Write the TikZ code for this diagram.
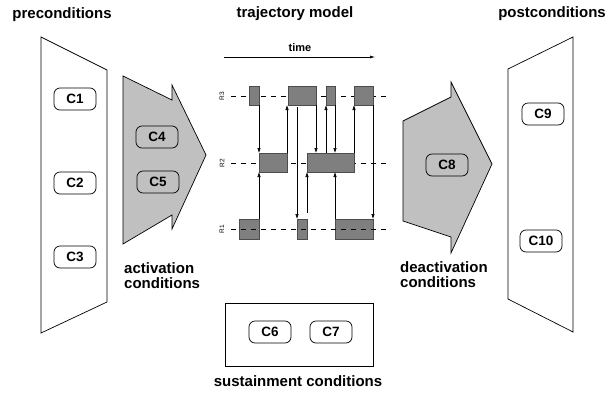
\documentclass[tikz,border=0pt]{standalone}
\usepackage{fontspec}
\setmainfont{Liberation Sans}
\usetikzlibrary{arrows.meta}
\definecolor{lgray}{HTML}{C0C0C0}
\definecolor{dgray}{HTML}{7F7F7F}
\tikzset{
  frame/.style={draw=black, line width=0.7pt, line join=miter},
  grayshape/.style={frame, fill=lgray},
  pill/.style={draw=black, line width=0.7pt, rounded corners=6pt, minimum width=42pt, minimum height=22pt, inner sep=0pt, font=\bfseries\fontsize{13.5}{14}\selectfont},
  whitepill/.style={pill, fill=white},
  graypill/.style={pill, fill=lgray},
  title/.style={font=\bfseries\fontsize{15}{15}\selectfont, inner sep=0pt},
  bar/.style={draw=black!70, fill=dgray, line width=0.6pt, inner sep=0pt, outer sep=0pt},
  arr/.style={line width=0.6pt, -{Latex[length=5pt, width=3.5pt]}},
  dashline/.style={line width=0.6pt, dash pattern=on 5pt off 5pt},
  rlab/.style={font=\fontsize{6.5}{7}\selectfont, rotate=90, inner sep=0pt}
}
\begin{document}
\begin{tikzpicture}[x=1pt, y=-1pt]
\useasboundingbox (0,0) rectangle (608,394);

% titles
\node[title] (tpre) at (62,15) {preconditions};
\node[title] (ttraj) at (295,14) {trajectory model};
\node[title] (tpost) at (552,14) {postconditions};

% precondition trapezoid
\draw[frame, fill=white] (41,37) -- (107,70) -- (107,302) -- (41,333) -- cycle;
\node[whitepill] (c1) at (75,99) {C1};
\node[whitepill] (c2) at (75,183) {C2};
\node[whitepill] (c3) at (75,257) {C3};

% activation arrow
\draw[grayshape] (123,76) -- (172,100) -- (172,85) -- (206,155) -- (172,229) -- (172,215) -- (123,244) -- cycle;
\node[graypill] (c4) at (157,137) {C4};
\node[graypill] (c5) at (158,182) {C5};
\node[title, anchor=west, align=left] (tact) at (124,276) {activation\\conditions};

% deactivation arrow
\draw[grayshape] (403,121) -- (451,97) -- (451,82) -- (492,164) -- (451,253) -- (451,237) -- (403,221) -- cycle;
\node[graypill] (c8) at (447,165) {C8};
\node[title, anchor=west, align=left] (tdeact) at (400,275) {deactivation\\conditions};

% postcondition trapezoid
\draw[frame, fill=white] (508,69) -- (573,37) -- (573,332) -- (508,299) -- cycle;
\node[whitepill] (c9) at (543,114) {C9};
\node[whitepill] (c10) at (541,241) {C10};

% sustainment
\draw[frame] (225,303) rectangle (373,366);
\node[whitepill] (c6) at (270,332) {C6};
\node[whitepill] (c7) at (331,332) {C7};
\node[title] (tsust) at (298,381) {sustainment conditions};

% time axis
\coordinate (t0) at (224,57);
\coordinate (t1) at (375,57);
\draw[line width=0.6pt, -{Latex[length=5pt, width=3pt]}] (t0) -- (t1);
\node[font=\bfseries\fontsize{11}{11}\selectfont, inner sep=0pt] (ttime) at (300,48) {time};

% resource labels
\node[rlab] (lr3) at (222,96) {R3};
\node[rlab] (lr2) at (222,163) {R2};
\node[rlab] (lr1) at (222,229) {R1};

% dashed lines R3, R2 (under bars)
\coordinate (d3a) at (231,96); \coordinate (d3b) at (386,96);
\coordinate (d2a) at (231,163); \coordinate (d2b) at (386,163);
\coordinate (d1a) at (231,229); \coordinate (d1b) at (386,229);
\draw[dashline] (d3a) -- (d3b);
\draw[dashline] (d2a) -- (d2b);

% bars
\node[bar, minimum width=10pt, minimum height=19pt] (r3a) at (254,95.5) {};
\node[bar, minimum width=28pt, minimum height=19pt] (r3b) at (302,95.5) {};
\node[bar, minimum width=9pt, minimum height=19pt] (r3c) at (330.5,95.5) {};
\node[bar, minimum width=19pt, minimum height=19pt] (r3d) at (363.5,95.5) {};
\node[bar, minimum width=28pt, minimum height=19pt] (r2a) at (273,162.5) {};
\node[bar, minimum width=47pt, minimum height=19pt] (r2b) at (330.5,162.5) {};
\node[bar, minimum width=20pt, minimum height=20pt] (r1a) at (249,229) {};
\node[bar, minimum width=10pt, minimum height=20pt] (r1b) at (302,229) {};
\node[bar, minimum width=38pt, minimum height=20pt] (r1c) at (354,229) {};

% R1 dashed line (over bars)
\draw[dashline] (d1a) -- (d1b);

% transitions
\draw[arr] (r3a.south east) -- (r3a.south east |- r2a.north);
\draw[arr] (r1a.north east) -- (r1a.north east |- r2a.south);
\draw[arr] (r2a.north east) -- (r2a.north east |- r3b.south);
\draw[arr] ([yshift=-2pt]r1b.north west |- r3b.south) -- (r1b.north west);
\draw[arr] ([yshift=6pt]r1b.north east) -- (r1b.north east |- r2b.south);
\draw[arr] (r3b.south east) -- (r3b.south east |- r2b.north);
\draw[arr] (r3c.south west |- r2b.north) -- (r3c.south west);
\draw[arr] (r3c.south east) -- (r3c.south east |- r2b.north);
\draw[arr] (r1c.north west) -- (r1c.north west |- r2b.south);
\draw[arr] (r2b.north east) -- (r2b.north east |- r3d.south);
\draw[arr] (r3d.south east) -- (r1c.north east);
\end{tikzpicture}
\end{document}
